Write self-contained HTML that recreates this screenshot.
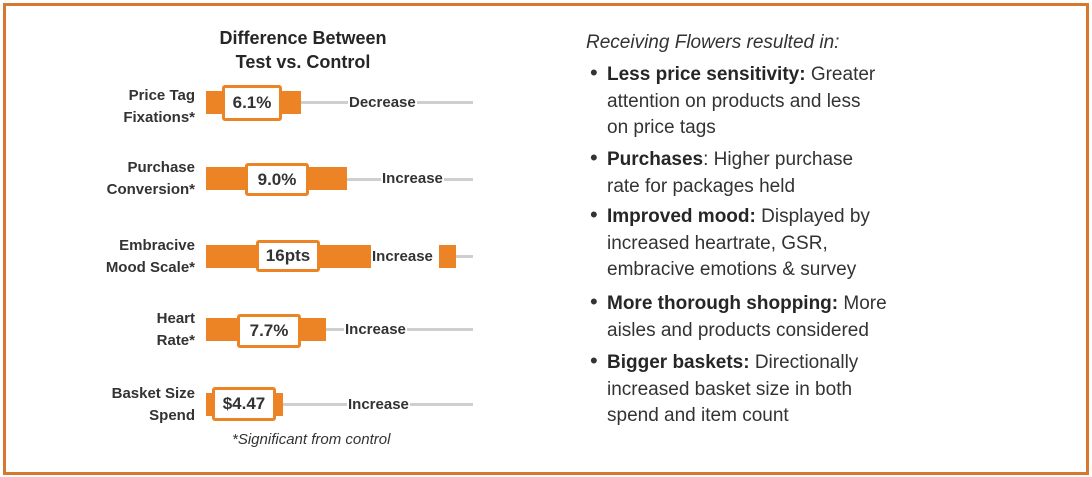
<!DOCTYPE html>
<html><head><style>
body{margin:0;background:#fff;width:1092px;height:477px;overflow:hidden;position:relative;font-family:"Liberation Sans",Arial,sans-serif;color:#333}
.frame{position:absolute;left:3px;top:3px;width:1080px;height:466px;border:3px solid #d7782e}
.a{position:absolute}
.t{position:absolute;font-weight:bold;font-size:18px;text-align:center;width:260px;left:173px;line-height:24px;color:#262626}
.lab{position:absolute;right:897px;text-align:right;font-weight:bold;font-size:15px;line-height:22px;color:#333}
.bar{position:absolute;background:#ec8426}
.box{position:absolute;background:#fff;border:3px solid #ec8426;border-radius:3px;box-sizing:border-box;font-weight:bold;font-size:17px;color:#333;display:flex;align-items:center;justify-content:center}
.line{position:absolute;height:3px;background:#cfcfcf}
.txt{position:absolute;background:#fff;font-weight:bold;font-size:15px;color:#333;line-height:18px;padding:0 1px}
.r{position:absolute;left:607px;font-size:19px;line-height:26.5px;color:#333;width:400px;white-space:nowrap}
.r b{color:#262626}
.bl{position:absolute;left:590px;font-size:22px}
</style></head><body>
<div class="frame"></div>
<div class="t" style="top:26px">Difference Between<br>Test vs. Control</div>

<div class="lab" style="top:85px">Price Tag<br>Fixations*</div>
<div class="line" style="left:300px;width:173px;top:101px"></div>
<div class="bar" style="left:206px;top:91px;width:95px;height:23px"></div>
<div class="box" style="left:222px;top:85px;width:60px;height:36px">6.1%</div>
<div class="txt" style="left:348px;top:94px">Decrease</div>

<div class="lab" style="top:157px">Purchase<br>Conversion*</div>
<div class="line" style="left:346px;width:127px;top:178px"></div>
<div class="bar" style="left:206px;top:167px;width:141px;height:23px"></div>
<div class="box" style="left:245px;top:163px;width:64px;height:33px">9.0%</div>
<div class="txt" style="left:381px;top:170px">Increase</div>

<div class="lab" style="top:235px">Embracive<br>Mood Scale*</div>
<div class="line" style="left:440px;width:33px;top:255px"></div>
<div class="bar" style="left:206px;top:245px;width:165px;height:23px"></div>
<div class="bar" style="left:439px;top:245px;width:17px;height:23px"></div>
<div class="box" style="left:256px;top:240px;width:64px;height:32px">16pts</div>
<div class="txt" style="left:372px;top:248px;padding:0">Increase</div>

<div class="lab" style="top:308px">Heart<br>Rate*</div>
<div class="line" style="left:325px;width:148px;top:328px"></div>
<div class="bar" style="left:206px;top:318px;width:120px;height:23px"></div>
<div class="box" style="left:237px;top:314px;width:64px;height:34px">7.7%</div>
<div class="txt" style="left:344px;top:321px">Increase</div>

<div class="lab" style="top:383px">Basket Size<br>Spend</div>
<div class="line" style="left:282px;width:191px;top:403px"></div>
<div class="bar" style="left:206px;top:393px;width:77px;height:23px"></div>
<div class="box" style="left:212px;top:387px;width:64px;height:34px">$4.47</div>
<div class="txt" style="left:347px;top:396px">Increase</div>

<div class="a" style="left:232px;top:431px;font-style:italic;font-size:15px;color:#333">*Significant from control</div>

<div class="a" style="left:586px;top:32px;font-style:italic;font-size:19px;color:#333">Receiving Flowers resulted in:</div>
<div class="bl" style="top:60px">•</div><div class="r" style="top:62px"><b>Less price sensitivity:</b> Greater<br>attention on products and less<br>on price tags</div>
<div class="bl" style="top:145px">•</div><div class="r" style="top:147px"><b>Purchases</b>: Higher purchase<br>rate for packages held</div>
<div class="bl" style="top:202px">•</div><div class="r" style="top:204px"><b>Improved mood:</b> Displayed by<br>increased heartrate, GSR,<br>embracive emotions &amp; survey</div>
<div class="bl" style="top:289px">•</div><div class="r" style="top:291px"><b>More thorough shopping:</b> More<br>aisles and products considered</div>
<div class="bl" style="top:348px">•</div><div class="r" style="top:350px"><b>Bigger baskets:</b> Directionally<br>increased basket size in both<br>spend and item count</div>
</body></html>
